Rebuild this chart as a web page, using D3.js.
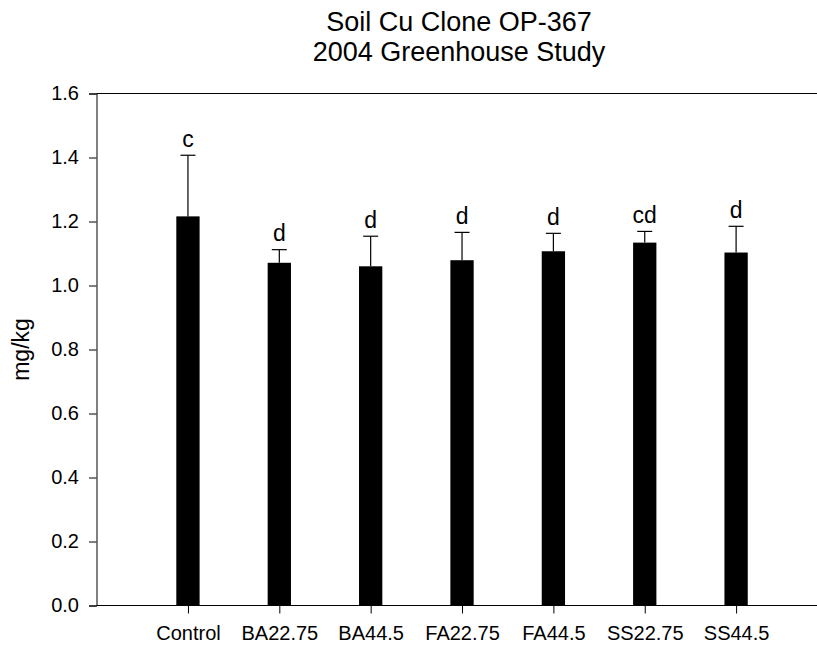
<!DOCTYPE html>
<html>
<head>
<meta charset="utf-8">
<script src="https://cdn.jsdelivr.net/npm/d3@7"></script>
<style>
  html, body { margin: 0; padding: 0; background: #fff; }
  svg { display: block; font-family: "Liberation Sans", Arial, Helvetica, sans-serif; }
</style>
</head>
<body>
<svg id="chart" width="817" height="647"></svg>
<script>
const categories = ["Control", "BA22.75", "BA44.5", "FA22.75", "FA44.5", "SS22.75", "SS44.5"];
const means      = [1.216, 1.071, 1.060, 1.079, 1.107, 1.134, 1.103];
const errUpper   = [1.407, 1.112, 1.154, 1.166, 1.163, 1.169, 1.185];
const letters    = ["c", "d", "d", "d", "d", "cd", "d"];
const yTicks     = [0.0, 0.2, 0.4, 0.6, 0.8, 1.0, 1.2, 1.4, 1.6];
const titleLines = ["Soil Cu Clone OP-367", "2004 Greenhouse Study"];
const yLabel     = "mg/kg";

(function () {
const svg = d3.select("#chart");
const pLeft = 96.5, pRight = 817, pTop = 93.5, pBottom = 605.5;

const x = d3.scaleLinear().domain([-1, 6]).range([96.6, 736.1]);
const y = d3.scaleLinear().domain([0, 1.6]).range([pBottom, pTop]);
const barW = 23.3, capHalf = 7.5;

// Top frame line
svg.append("line").attr("x1", pLeft).attr("x2", pRight).attr("y1", pTop).attr("y2", pTop)
  .attr("stroke", "#000").attr("stroke-width", 1);

// Bars
svg.append("g").selectAll("rect").data(means).join("rect")
  .attr("x", (d, i) => x(i) - barW / 2)
  .attr("width", barW)
  .attr("y", d => y(d))
  .attr("height", d => y(0) - y(d))
  .attr("fill", "#000");

// Error bars (upper only)
const eg = svg.append("g").attr("stroke", "#000").attr("stroke-width", 1.2);
errUpper.forEach((e, i) => {
  eg.append("line").attr("x1", x(i)).attr("x2", x(i)).attr("y1", y(means[i])).attr("y2", y(e));
  eg.append("line").attr("x1", x(i) - capHalf).attr("x2", x(i) + capHalf).attr("y1", y(e)).attr("y2", y(e));
});

// Significance letters
svg.append("g").selectAll("text").data(letters).join("text")
  .attr("x", (d, i) => x(i))
  .attr("y", (d, i) => y(errUpper[i]) - 8.5)
  .attr("text-anchor", "middle")
  .attr("font-size", 23)
  .attr("fill", "#000")
  .text(d => d);

// Y axis
const yAxis = d3.axisLeft(y).tickValues(yTicks).tickFormat(d3.format(".1f")).tickSizeOuter(0).tickSize(7.5).tickPadding(10);
const yg = svg.append("g").attr("transform", `translate(${pLeft},0)`).call(yAxis);
yg.select(".domain").attr("stroke", "#000");
yg.selectAll(".tick line").attr("stroke", "#000");
yg.selectAll(".tick text").attr("font-size", 20).attr("fill", "#000").attr("font-family", "Liberation Sans, Arial, sans-serif");

// X axis
const xAxis = d3.axisBottom(x).tickValues(d3.range(categories.length)).tickFormat(i => categories[i]).tickSizeOuter(0).tickSize(8).tickPadding(12);
const xg = svg.append("g").attr("transform", `translate(0,${pBottom})`).call(xAxis);
xg.select(".domain").remove();
xg.append("line").attr("x1", pLeft).attr("x2", pRight).attr("y1", 0).attr("y2", 0).attr("stroke", "#000");
xg.selectAll(".tick line").attr("stroke", "#000");
xg.selectAll(".tick text").attr("font-size", 20).attr("fill", "#000").attr("font-family", "Liberation Sans, Arial, sans-serif");

// Y label
svg.append("text")
  .attr("transform", `translate(29,${(pTop + pBottom) / 2}) rotate(-90)`)
  .attr("text-anchor", "middle")
  .attr("font-size", 23)
  .attr("fill", "#000")
  .text(yLabel);

// Title
svg.append("g").selectAll("text").data(titleLines).join("text")
  .attr("x", 459)
  .attr("y", (d, i) => 30.5 + i * 30)
  .attr("text-anchor", "middle")
  .attr("font-size", 27)
  .attr("fill", "#000")
  .text(d => d);
})();
</script>
</body>
</html>
